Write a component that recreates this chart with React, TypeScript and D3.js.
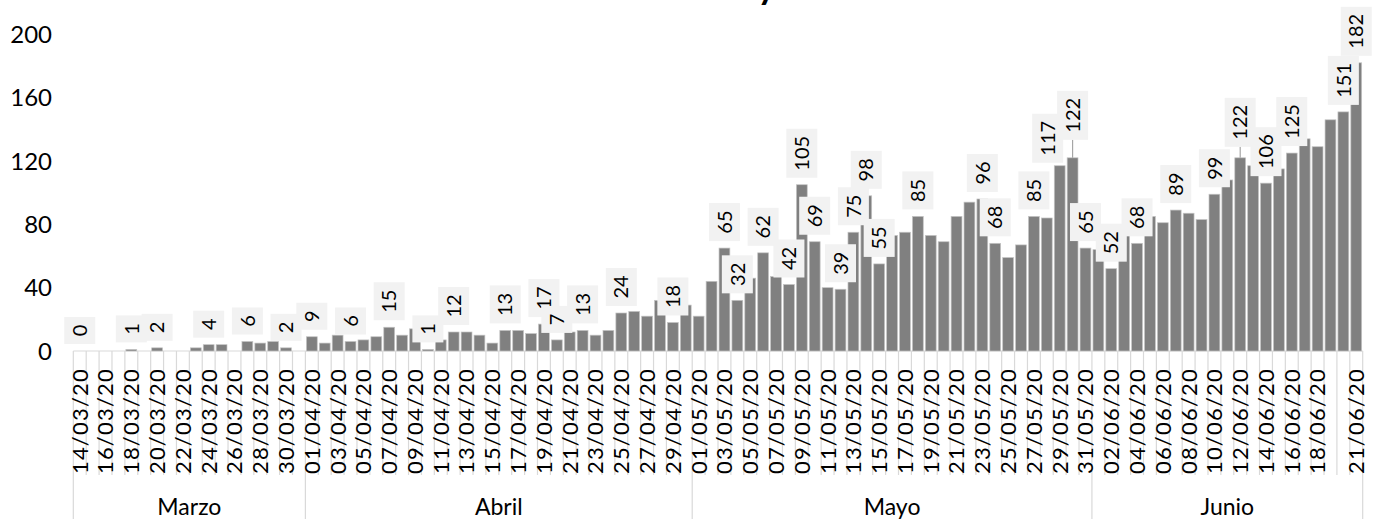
import React from "react";
import * as d3 from "d3";

// ---- data ----
const monthNames = ["Marzo", "Abril", "Mayo", "Junio"];
const startDate = new Date(2020, 2, 14);
const marzo = [0, 0, 0, 0, 1, 0, 2, 0, 0, 2, 4, 4, 0, 6, 5, 6, 2, 0];
const abril = [9, 5, 10, 6, 7, 9, 15, 10, 14, 1, 7, 12, 12, 10, 5, 13, 13, 11, 17, 7, 12, 13, 10, 13, 24, 25, 22, 32, 18, 29];
const mayo = [22, 44, 65, 32, 46, 62, 47, 42, 105, 69, 40, 39, 75, 98, 55, 73, 75, 85, 73, 69, 85, 94, 96, 68, 59, 67, 85, 84, 117, 122, 65];
const junio = [64, 52, 73, 68, 85, 81, 89, 87, 83, 99, 108, 122, 117, 106, 115, 125, 134, 129, 146, 151, 182];
const tickLabels = [
  "14/03/20", "16/03/20", "18/03/20", "20/03/20", "22/03/20", "24/03/20", "26/03/20", "28/03/20", "30/03/20",
  "01/04/20", "03/04/20", "05/04/20", "07/04/20", "09/04/20", "11/04/20", "13/04/20", "15/04/20", "17/04/20",
  "19/04/20", "21/04/20", "23/04/20", "25/04/20", "27/04/20", "29/04/20",
  "01/05/20", "03/05/20", "05/05/20", "07/05/20", "09/05/20", "11/05/20", "13/05/20", "15/05/20", "17/05/20",
  "19/05/20", "21/05/20", "23/05/20", "25/05/20", "27/05/20", "29/05/20", "31/05/20",
  "02/06/20", "04/06/20", "06/06/20", "08/06/20", "10/06/20", "12/06/20", "14/06/20", "16/06/20", "18/06/20", "21/06/20",
];
const labeledDates = [
  "14/03/20", "18/03/20", "20/03/20", "24/03/20", "27/03/20", "30/03/20",
  "01/04/20", "04/04/20", "07/04/20", "10/04/20", "12/04/20", "16/04/20", "19/04/20", "20/04/20", "22/04/20", "25/04/20", "29/04/20",
  "03/05/20", "04/05/20", "06/05/20", "08/05/20", "09/05/20", "10/05/20", "12/05/20", "13/05/20", "14/05/20", "15/05/20",
  "18/05/20", "23/05/20", "24/05/20", "27/05/20", "29/05/20", "30/05/20", "31/05/20",
  "02/06/20", "04/06/20", "07/06/20", "10/06/20", "12/06/20", "14/06/20", "16/06/20", "20/06/20", "21/06/20",
];
const yTicks = [0, 40, 80, 120, 160, 200];

// ---- layout / style config ----
const W = 1374;
const H = 519;
const M = { left: 73.3, right: 1362.7, top: 34.3, bottom: 351 };
const labelNudge: Record<string, [number, number]> = {
  "29/05/20": [-12, 4],
  "30/05/20": [0, -11],
  "12/06/20": [0, -4],
};
const fmt = d3.timeFormat("%d/%m/%y");

export default function App() {
  const values = [...marzo, ...abril, ...mayo, ...junio];
  const dates = d3.timeDay.range(startDate, d3.timeDay.offset(startDate, values.length));
  const cats = dates.map((d) => fmt(d));
  const x = d3
    .scaleBand<string>()
    .domain(cats)
    .range([M.left, M.right])
    .paddingInner(0.16)
    .paddingOuter(0.08);
  const y = d3.scaleLinear().domain([0, 200]).range([M.bottom, M.top]);
  const step = x.step();
  const bw = x.bandwidth();
  const boundary = (k: number) => M.left + k * step;

  const months = d3
    .groups(
      dates.map((d, i) => ({ m: d.getMonth(), i })),
      (d) => d.m
    )
    .map(([, arr], j) => ({ name: monthNames[j], start: arr[0].i, end: arr[arr.length - 1].i + 1 }));

  const monthEdges = new Set<number>();
  months.forEach((m) => {
    monthEdges.add(m.start);
    monthEdges.add(m.end);
  });

  const font = "Lato, 'DejaVu Sans', sans-serif";

  return (
    <svg width={W} height={H} style={{ position: "absolute", left: 0, top: 0, background: "#fff" }}>
      {/* title (cut off above the frame, as in the reference) */}
      <text x={757} y={-1} textAnchor="middle" fontFamily={font} fontWeight={700} fontSize={36} fill="#000">
        Casos diarios y acumulados
      </text>

      {/* y axis labels */}
      {yTicks.map((t) => (
        <text key={t} x={52} y={y(t)} dy="0.36em" textAnchor="end" fontFamily={font} fontSize={24} fill="#000">
          {t}
        </text>
      ))}

      {/* category separators */}
      {d3.range(cats.length + 1).map((k) => (
        <line
          key={"sep" + k}
          x1={boundary(k)}
          x2={boundary(k)}
          y1={M.bottom}
          y2={monthEdges.has(k) ? H : 475}
          stroke="#d9d9d9"
          strokeWidth={1.2}
        />
      ))}
      <line x1={M.left} x2={M.right} y1={M.bottom} y2={M.bottom} stroke="#d9d9d9" strokeWidth={1.2} />

      {/* bars */}
      {values.map((v, i) =>
        v > 0 ? (
          <rect
            key={"b" + i}
            x={x(cats[i])!}
            y={y(v)}
            width={bw}
            height={y(0) - y(v)}
            fill="#808080"
            stroke="#c4c4c4"
            strokeWidth={0.7}
          />
        ) : null
      )}

      {/* tick labels */}
      {tickLabels.map((t) => {
        const cx = x(t)! + bw / 2;
        return (
          <text
            key={"t" + t}
            transform={`translate(${cx},368) rotate(-90)`}
            textAnchor="end"
            dy="0.36em"
            fontFamily={font}
            fontSize={22}
            letterSpacing={1.2}
            fill="#000"
          >
            {t}
          </text>
        );
      })}

      {/* month labels */}
      {months.map((m) => (
        <text
          key={m.name}
          x={(boundary(m.start) + boundary(m.end)) / 2}
          y={515}
          textAnchor="middle"
          fontFamily={font}
          fontSize={23}
          fill="#000"
        >
          {m.name}
        </text>
      ))}

      {/* data labels */}
      {labeledDates.map((d) => {
        const i = cats.indexOf(d);
        const v = values[i];
        const barX = x(d)! + bw / 2;
        const [dx, dy] = labelNudge[d] || [0, 0];
        const cx = barX + dx;
        const txt = String(v);
        const bh = 16 + 11 * txt.length;
        const bottom = y(v) - 7 + dy;
        const cy = bottom - bh / 2;
        return (
          <g key={"l" + d}>
            {bottom < y(v) - 9 ? (
              <line x1={barX} x2={barX} y1={bottom} y2={y(v)} stroke="#a6a6a6" strokeWidth={1.2} />
            ) : null}
            <rect x={cx - 15.5} y={bottom - bh} width={31} height={bh} fill="#f2f2f2" />
            <text
              transform={`translate(${cx},${cy}) rotate(-90)`}
              textAnchor="middle"
              dy="0.36em"
              fontFamily={font}
              fontSize={20}
              fill="#000"
            >
              {txt}
            </text>
          </g>
        );
      })}
    </svg>
  );
}
